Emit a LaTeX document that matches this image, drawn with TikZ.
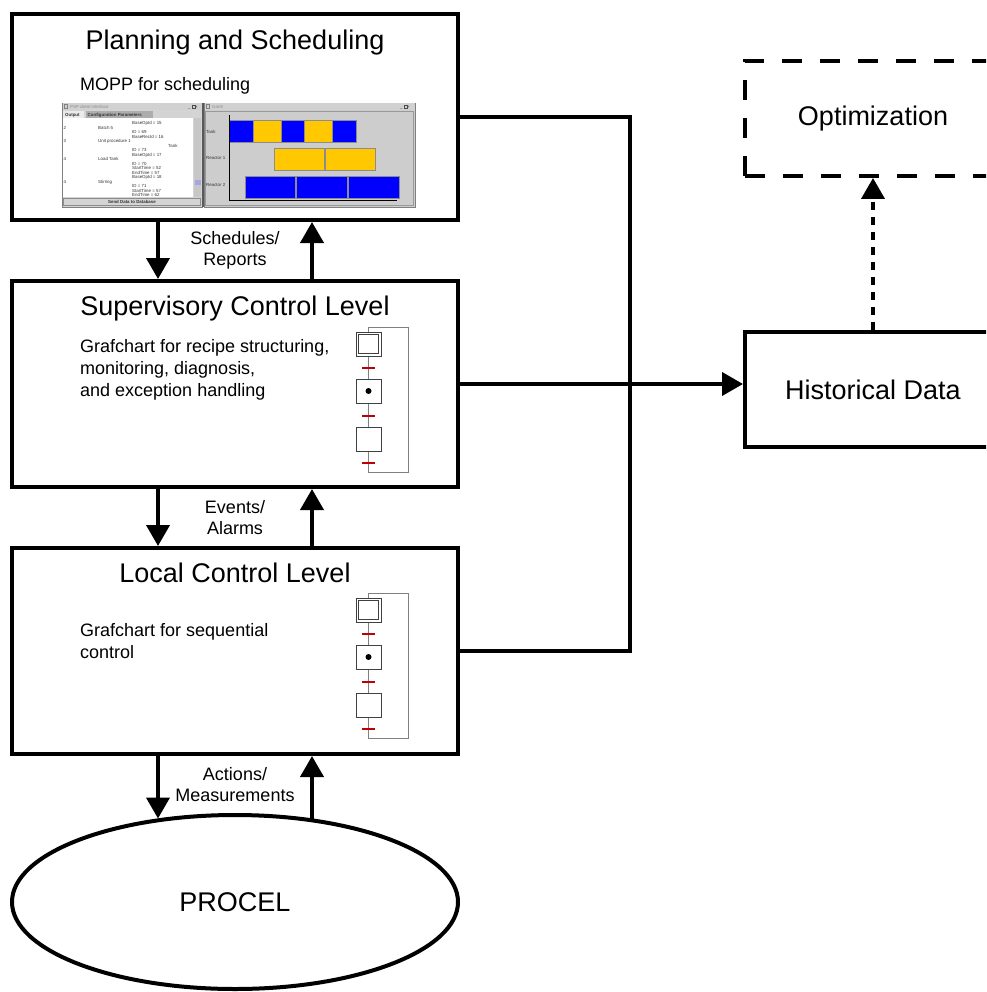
\documentclass[tikz,border=0pt]{standalone}
\usepackage{fontspec}
\setmainfont{Liberation Sans}
\usetikzlibrary{shapes.geometric, arrows.meta, positioning, calc}
\definecolor{BarBlue}{RGB}{0, 0, 255}
\definecolor{BarGold}{RGB}{255, 200, 0}
\definecolor{WinGray}{RGB}{212, 212, 212}
\definecolor{PanelGray}{RGB}{205, 205, 205}
\definecolor{FrameGray}{RGB}{128, 128, 128}
\definecolor{TransRed}{RGB}{192, 0, 0}
\definecolor{ThumbLav}{RGB}{165, 165, 225}

\begin{document}
\begin{tikzpicture}[x=1pt, y=-1pt,
    level/.style={draw, line width=4pt, minimum width=446pt, minimum height=206pt, inner sep=0pt},
    side/.style={draw, line width=4pt, minimum width=256pt, minimum height=115pt, inner sep=0pt, font=\fontsize{27}{32}\selectfont},
    title/.style={font=\fontsize{27}{32}\selectfont, inner sep=0pt, anchor=base},
    body/.style={font=\fontsize{18}{22}\selectfont, align=left, inner sep=0pt, anchor=north west},
    lbl/.style={font=\fontsize{18}{21}\selectfont, align=center, inner sep=0pt},
    flow/.style={line width=4pt, -{Triangle[width=23pt, length=21pt]}},
    link/.style={line width=4pt},
    gstep/.style={draw=black!75, fill=white, line width=0.8pt},
    trans/.style={draw=TransRed, line width=2pt},
    scrtext/.style={font=\fontsize{4.4}{5}\selectfont, inner sep=0pt, anchor=base west, text=black!80},
    bar/.style={draw=black!45, line width=0.5pt}
]
    \clip (0,0) rectangle (986,992);

    % control levels and plant
    \node[level] (plan) at (235,117) {};
    \node[level] (sup) at (235,384) {};
    \node[level] (local) at (235,651) {};
    \node[draw, ellipse, line width=4pt, minimum width=446pt, minimum height=174pt, inner sep=0pt,
          font=\fontsize{27}{32}\selectfont] (procel) at (235,902) {PROCEL};

    \node[title] (plantitle) at (235,50) {Planning and Scheduling};
    \node[title] (suptitle) at (235,315) {Supervisory Control Level};
    \node[title] (localtitle) at (235,582) {Local Control Level};

    \node[body, anchor=base west] (mopp) at (80,91) {MOPP for scheduling};
    \node[body] (supbody) at (80,339) {Grafchart for recipe structuring,\\monitoring, diagnosis,\\and exception handling};
    \node[body] (localbody) at (80,623) {Grafchart for sequential\\control};

    % data side
    \node[side, dash pattern=on 20pt off 18pt] (opt) at (873,118.5) {Optimization};
    \node[side] (hist) at (873,389.5) {Historical Data};

    % information flow between levels
    \draw[flow] ([xshift=-77pt]plan.south) -- ([xshift=-77pt]sup.north);
    \draw[flow] ([xshift=77pt]sup.north) -- ([xshift=77pt]plan.south);
    \draw[flow] ([xshift=-77pt]sup.south) -- ([xshift=-77pt]local.north);
    \draw[flow] ([xshift=77pt]local.north) -- ([xshift=77pt]sup.south);
    \draw[flow] ([xshift=-77pt]local.south) -- ([xshift=-77pt]local.south |- procel.133);
    \draw[flow] ([xshift=77pt]local.south |- procel.47) -- ([xshift=77pt]local.south);

    \node[lbl] (sched) at ($(plan.south)!.5!(sup.north)$) {Schedules/\\Reports};
    \node[lbl] (events) at ($(sup.south)!.5!(local.north)$) {Events/\\Alarms};
    \node[lbl] (actions) at ($(local.south)!.5!(procel.north)$) {Actions/\\Measurements};

    % logging to the historian
    \coordinate (bus) at (630,651);
    \draw[link] (plan.east) -| (bus) -- (local.east);
    \draw[flow] (sup.east) -- (sup.east -| hist.west);
    \draw[flow, dash pattern=on 8pt off 7pt] (hist.north) -- (opt.south);

    % grafcharts
    \foreach \oy in {332,598} {
        \begin{scope}[shift={(0,\oy)}]
            \draw[FrameGray, line width=1pt] (368.5,-5) rectangle (408,140);
            \draw[gstep] (356,0) rectangle (381,24);
            \draw[draw=black!75, line width=0.8pt] (358.5,2.5) rectangle (378.5,21.5);
            \draw[gstep] (356,47) rectangle (381,71);
            \fill (368.5,59) circle[radius=3pt];
            \draw[gstep] (356,95) rectangle (381,119);
            \foreach \ty in {36,84,131}
                \draw[trans] (362,\ty) -- (375,\ty);
        \end{scope}
    }

    % scheduler client window
    \draw[fill=WinGray, draw=FrameGray, line width=0.5pt] (62,103) rectangle (202,207);
    \fill[black!18] (62.5,103.5) rectangle (201.5,110);
    \draw[black!50, line width=0.4pt] (64,104.5) rectangle (67,108);
    \node[scrtext, text=black!45] (psptitle) at (70,108.5) {PSP client interface};
    \node[scrtext] (pspbtn) at (188,108.5) {\_\,\,\,\,\,\,×};
    \draw[black!70, line width=0.4pt] (192.5,105.5) rectangle (195,108);
    \fill[black!8] (63,111) rectangle (84,118);
    \fill[black!32] (86,111) rectangle (153,118);
    \node[scrtext, font=\fontsize{4.4}{5}\selectfont\bfseries] (tabout) at (65,116.5) {Output};
    \node[scrtext, font=\fontsize{4.4}{5}\selectfont\bfseries] (tabconf) at (87.5,116.5) {Configuration Parameters};
    \fill[white] (63,118) rectangle (193,197);
    \fill[black!22] (194,118) rectangle (201,197);
    \fill[ThumbLav] (194.5,180) rectangle (200.5,185);
    \foreach \x/\y/\t [count=\i] in {132/125/BaseOpId = 15, 63.5/129.5/2, 98/129.5/Batch 5,
            132/134/ID = 69, 132/138.5/BaseRecId = 16, 63.5/143/3, 98/143/Unit procedure 1,
            168/147.5/Tank, 132/152/ID = 73, 132/156.5/BaseOpId = 17, 63.5/161/4,
            98/161/Load Tank, 132/165.5/ID = 70, 132/170/StartTime = 52, 132/174.5/EndTime = 57,
            132/179/BaseOpId = 18, 63.5/183.5/4, 98/183.5/Stirring, 132/188/ID = 71,
            132/192.5/StartTime = 57, 132/196.8/EndTime = 62}
        \node[scrtext] (lst\i) at (\x,\y) {\t};
    \fill[WinGray] (63,197.5) rectangle (201,206.5);
    \draw[black!45, line width=0.4pt] (63.5,198.5) rectangle (200.5,205.5);
    \node[scrtext, anchor=base, font=\fontsize{4.4}{5}\selectfont\bfseries] (sendbtn) at (132,203.5) {Send Data to Database};

    % gantt window
    \draw[black!65, line width=1.2pt] (203,103) -- (203,207);
    \draw[fill=PanelGray, draw=FrameGray, line width=0.5pt] (204,103) rectangle (415,207);
    \fill[black!18] (204.5,103.5) rectangle (414.5,110);
    \draw[black!50, line width=0.4pt] (206,104.5) rectangle (209,108);
    \node[scrtext, text=black!45] (gantttitle) at (212,108.5) {Gantt};
    \node[scrtext] (ganttbtn) at (400,108.5) {\_\,\,\,\,\,\,×};
    \draw[black!70, line width=0.4pt] (404.5,105.5) rectangle (407,108);
    \draw[black!40, line width=0.4pt] (205.5,111.5) rectangle (413,205.5);
    \node[scrtext] (rowtank) at (206,134) {Tank};
    \node[scrtext] (rowr1) at (206,160) {Reactor 1};
    \node[scrtext] (rowr2) at (206,187) {Reactor 2};
    \foreach \xa/\xb/\ya/\yb/\c in {229/253/120/142/BarBlue, 253/281/120/142/BarGold,
            281/304/120/142/BarBlue, 304/332/120/142/BarGold, 332/356/120/142/BarBlue,
            274/324/148/170/BarGold, 325/375/148/170/BarGold,
            245/295/176/198/BarBlue, 296/347/176/198/BarBlue, 348/399/176/198/BarBlue}
        \draw[bar, fill=\c] (\xa,\ya) rectangle (\xb,\yb);
    \draw[line width=0.8pt] (229,115) -- (229,200) -- (397,200);
\end{tikzpicture}
\end{document}
